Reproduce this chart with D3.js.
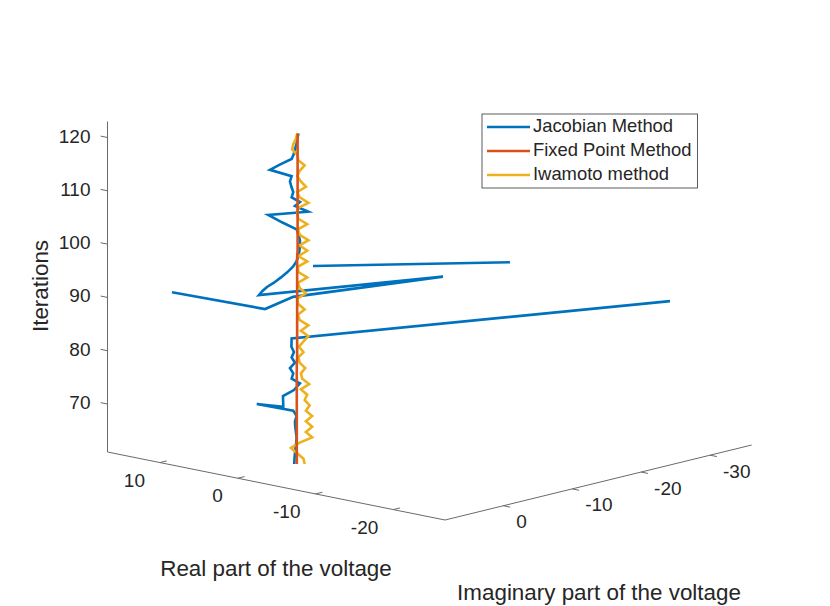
<!DOCTYPE html>
<html>
<head>
<meta charset="utf-8">
<script src="https://cdn.jsdelivr.net/npm/d3@7"></script>
<style>
  body { margin: 0; background: #fff; }
  svg { display: block; }
</style>
</head>
<body>
<script>
// ---- data ----
const iterations = d3.range(61, 124); // 61..123, one value per iteration

// Jacobian method: two gaps (null) where the run is broken, plus one short detached run at the end
const jacIter = iterations.concat([null, 98, 99]);
const jacRe = [
  0.13, 0.11, 0.08, 0.04, -0.01, -0.04, 0.01, 0.06, 0.08, -0.04,
  0.20, 3.16, -1.08, 0.53, -0.05, -0.08, 0.31, 0.20, 0.43, 0.08,
  0.31, 0.15, 0.33, 1.16, -16.29, null, null, 16.75, 3.82, 3.81,
  -2.44, 3.68, 3.06, 2.37, 1.57, 1.07, 0.61, 0.22, -0.03, -0.16,
  -0.24, -0.28, -0.28, -0.17, -0.04, 1.41, 3.05, -0.35, 0.70, -0.05,
  0.31, 0.20, 0.33, 0.43, 0.31, 2.11, 1.45, 0.65, 0.18, 0.08,
  -0.03, -0.10, -0.17,
  null, -0.97, -15.34
];
const jacIm = [
  0.12, 0.10, 0.07, 0.04, -0.01, -0.04, 0.01, 0.05, 0.07, -0.04,
  0.18, 2.14, 3.07, 1.30, 0.36, -0.47, 0.29, 0.18, 0.40, 0.07,
  0.29, 0.14, 0.30, -0.67, -35.88, null, null, -0.90, 0.19, -3.89,
  -18.57, 1.23, 1.42, 1.54, 1.44, 0.98, 0.56, 0.20, -0.03, -0.14,
  -0.22, -0.25, -0.25, -0.16, -0.04, 0.38, 0.59, -1.37, -0.64, -0.51,
  0.29, 0.18, 0.30, 0.40, 0.29, 1.41, 0.58, -0.09, 0.17, 0.07,
  -0.03, -0.09, -0.16,
  null, -1.36, -13.73
];

// Fixed point method
const fixRe = [
  -0.05, -0.05, -0.05, -0.05, -0.05, -0.05, -0.05, -0.05, -0.05, -0.05,
  -0.05, -0.05, -0.05, -0.05, -0.05, -0.05, -0.05, -0.05, -0.05, -0.05,
  -0.08, -0.08, -0.08, -0.08, -0.08, -0.08, -0.08, -0.08, -0.08, -0.08,
  -0.08, -0.08, -0.08, -0.08, -0.08, -0.08, -0.08, -0.08, -0.08, -0.08,
  -0.11, -0.11, -0.11, -0.11, -0.11, -0.11, -0.11, -0.11, -0.11, -0.11,
  -0.11, -0.11, -0.11, -0.11, -0.11, -0.11, -0.11, -0.11, -0.11, -0.11,
  -0.11, -0.11, -0.11
];
const fixIm = [
  -0.05, -0.05, -0.05, -0.05, -0.05, -0.05, -0.05, -0.05, -0.05, -0.05,
  -0.05, -0.05, -0.05, -0.05, -0.05, -0.05, -0.05, -0.05, -0.05, -0.05,
  -0.07, -0.07, -0.07, -0.07, -0.07, -0.07, -0.07, -0.07, -0.07, -0.07,
  -0.07, -0.07, -0.07, -0.07, -0.07, -0.07, -0.07, -0.07, -0.07, -0.07,
  -0.10, -0.10, -0.10, -0.10, -0.10, -0.10, -0.10, -0.10, -0.10, -0.10,
  -0.10, -0.10, -0.10, -0.10, -0.10, -0.10, -0.10, -0.10, -0.10, -0.10,
  -0.10, -0.10, -0.10
];

// Iwamoto method
const iwaRe = [
  -0.61, -0.53, -0.08, 0.36, -0.26, -1.14, -0.70, -1.14, -0.70, -1.14,
  -0.70, -0.96, -0.61, -0.79, -0.35, -0.93, -0.44, -0.35, -0.65, -0.26,
  -0.16, -0.53, -0.21, -0.53, -0.88, -0.35, -0.88, -0.26, -0.13, -0.61,
  -0.16, -0.08, -0.70, -0.26, -0.13, -0.79, -0.16, -0.13, -0.79, -0.16,
  -0.79, -0.26, -0.88, -0.26, -0.13, -0.79, -0.16, -0.08, -0.13, -0.88,
  -0.26, -0.08, -0.70, -0.35, -0.08, -0.26, -0.61, -0.16, -0.08, 0.28,
  0.19, 0.01, -0.08
];
const iwaIm = [
  -0.56, -0.48, -0.08, 0.34, -0.24, -1.05, -0.64, -1.05, -0.64, -1.05,
  -0.64, -0.89, -0.56, -0.73, -0.31, -0.85, -0.40, -0.31, -0.60, -0.24,
  -0.15, -0.48, -0.20, -0.48, -0.80, -0.31, -0.80, -0.24, -0.11, -0.56,
  -0.15, -0.08, -0.64, -0.24, -0.11, -0.73, -0.15, -0.11, -0.73, -0.15,
  -0.73, -0.24, -0.80, -0.24, -0.11, -0.73, -0.15, -0.08, -0.11, -0.80,
  -0.24, -0.08, -0.64, -0.31, -0.08, -0.24, -0.56, -0.15, -0.08, 0.25,
  0.18, 0.01, -0.08
];

const seriesNames = ["Jacobian Method", "Fixed Point Method", "Iwamoto method"];
const seriesColors = ["#0072BD", "#D95319", "#EDB120"];

const reTicks = [10, 0, -10, -20];
const imTicks = [0, -10, -20, -30];
const zTicks = [70, 80, 90, 100, 110, 120];

// axis limits
const reDomain = [16.75, -26.65];
const imDomain = [8.46, -36.05];
const zDomain = [61, 123];

// ---- projection (fixed 3D view, orthographic) ----
const origin = [107.5, 452];   // screen point of (re max, im max, z min)
const vRe = [337.5, 68];       // screen vector across the whole real range
const vIm = [306.7, -75];      // screen vector across the whole imaginary range
const vZ = [0, -330.5];        // screen vector across the whole iteration range

const reScale = d3.scaleLinear().domain(reDomain).range([0, 1]);
const imScale = d3.scaleLinear().domain(imDomain).range([0, 1]);
const zScale = d3.scaleLinear().domain(zDomain).range([0, 1]);

function project(re, im, it) {
    const a = reScale(re), b = imScale(im), c = zScale(it);
    return [
        origin[0] + a * vRe[0] + b * vIm[0] + c * vZ[0],
        origin[1] + a * vRe[1] + b * vIm[1] + c * vZ[1]
    ];
}

function unit(v) {
    const l = Math.hypot(v[0], v[1]);
    return [v[0] / l, v[1] / l];
}

const svg = d3.select("body").append("svg")
    .attr("width", 830)
    .attr("height", 606)
    .attr("viewBox", "0 0 830 606")
    .style("font-family", "'Liberation Sans', Arial, Helvetica, sans-serif");

svg.append("rect").attr("width", 830).attr("height", 606).attr("fill", "#fff");

const axisColor = "#6a6a6a";
const textColor = "#262626";

// ---- axes ----
const axes = svg.append("g");
const c0 = project(reDomain[0], imDomain[0], zDomain[0]);
const cRe = project(reDomain[1], imDomain[0], zDomain[0]);
const cIm = project(reDomain[1], imDomain[1], zDomain[0]);
const cZ = project(reDomain[0], imDomain[0], zDomain[1]);

axes.append("path")
    .attr("d", `M${cZ[0]},${cZ[1]} L${c0[0]},${c0[1]} L${cRe[0]},${cRe[1]} L${cIm[0]},${cIm[1]}`)
    .attr("fill", "none")
    .attr("stroke", axisColor)
    .attr("stroke-width", 1);

const tickLen = 7;
const uRe = unit(vRe), uIm = unit(vIm);

// real axis ticks
reTicks.forEach(v => {
    const p = project(v, imDomain[0], zDomain[0]);
    axes.append("line")
        .attr("x1", p[0]).attr("y1", p[1])
        .attr("x2", p[0] + uIm[0] * tickLen).attr("y2", p[1] + uIm[1] * tickLen)
        .attr("stroke", axisColor).attr("stroke-width", 1);
    axes.append("text")
        .attr("x", p[0] - 15).attr("y", p[1] + 19)
        .attr("text-anchor", "end")
        .attr("dominant-baseline", "middle")
        .attr("font-size", 19)
        .attr("fill", textColor)
        .text(v);
});

// imaginary axis ticks
imTicks.forEach(v => {
    const p = project(reDomain[1], v, zDomain[0]);
    axes.append("line")
        .attr("x1", p[0]).attr("y1", p[1])
        .attr("x2", p[0] + uRe[0] * tickLen).attr("y2", p[1] + uRe[1] * tickLen)
        .attr("stroke", axisColor).attr("stroke-width", 1);
    axes.append("text")
        .attr("x", p[0] + 13).attr("y", p[1] + 17.5)
        .attr("text-anchor", "start")
        .attr("dominant-baseline", "middle")
        .attr("font-size", 19)
        .attr("fill", textColor)
        .text(v);
});

// iteration axis ticks
zTicks.forEach(v => {
    const p = project(reDomain[0], imDomain[0], v);
    axes.append("line")
        .attr("x1", p[0]).attr("y1", p[1])
        .attr("x2", p[0] - uRe[0] * tickLen).attr("y2", p[1] - uRe[1] * tickLen)
        .attr("stroke", axisColor).attr("stroke-width", 1);
    axes.append("text")
        .attr("x", p[0] - 17).attr("y", p[1])
        .attr("text-anchor", "end")
        .attr("dominant-baseline", "middle")
        .attr("font-size", 19)
        .attr("fill", textColor)
        .text(v);
});

// axis labels
svg.append("text")
    .attr("transform", "translate(48,286) rotate(-90)")
    .attr("text-anchor", "middle")
    .attr("font-size", 22.4)
    .attr("fill", textColor)
    .text("Iterations");

svg.append("text")
    .attr("x", 276).attr("y", 576)
    .attr("text-anchor", "middle")
    .attr("font-size", 22.4)
    .attr("fill", textColor)
    .text("Real part of the voltage");

svg.append("text")
    .attr("x", 599).attr("y", 600)
    .attr("text-anchor", "middle")
    .attr("font-size", 22.4)
    .attr("fill", textColor)
    .text("Imaginary part of the voltage");

// ---- series ----
function toPoints(its, res, ims) {
    return its.map((it, i) => ({ it: it, re: res[i], im: ims[i] }));
}

const jacobian = toPoints(jacIter, jacRe, jacIm);
const fixedPoint = toPoints(iterations, fixRe, fixIm);
const iwamoto = toPoints(iterations, iwaRe, iwaIm);

const line = d3.line()
    .defined(d => d.it != null && d.re != null && d.im != null)
    .x(d => project(d.re, d.im, d.it)[0])
    .y(d => project(d.re, d.im, d.it)[1]);

const plot = svg.append("g")
    .attr("fill", "none")
    .attr("stroke-width", 2.6)
    .attr("stroke-linejoin", "miter")
    .attr("stroke-miterlimit", 6);

// draw order: blue, yellow, then red on top
plot.append("path").datum(jacobian).attr("d", line).attr("stroke", seriesColors[0]);
plot.append("path").datum(iwamoto).attr("d", line).attr("stroke", seriesColors[2]);
plot.append("path").datum(fixedPoint).attr("d", line).attr("stroke", seriesColors[1]);

// ---- legend ----
const legend = svg.append("g").attr("transform", "translate(482,114)");
legend.append("rect")
    .attr("width", 215.5).attr("height", 74)
    .attr("fill", "#fff")
    .attr("stroke", "#333")
    .attr("stroke-width", 0.8);

seriesNames.forEach((name, i) => {
    const y = 13 + i * 24;
    legend.append("line")
        .attr("x1", 5).attr("x2", 48)
        .attr("y1", y).attr("y2", y)
        .attr("stroke", seriesColors[i])
        .attr("stroke-width", 2.6);
    legend.append("text")
        .attr("x", 51).attr("y", y)
        .attr("dominant-baseline", "middle")
        .attr("font-size", 18.4)
        .attr("fill", textColor)
        .text(name);
});
</script>
</body>
</html>
